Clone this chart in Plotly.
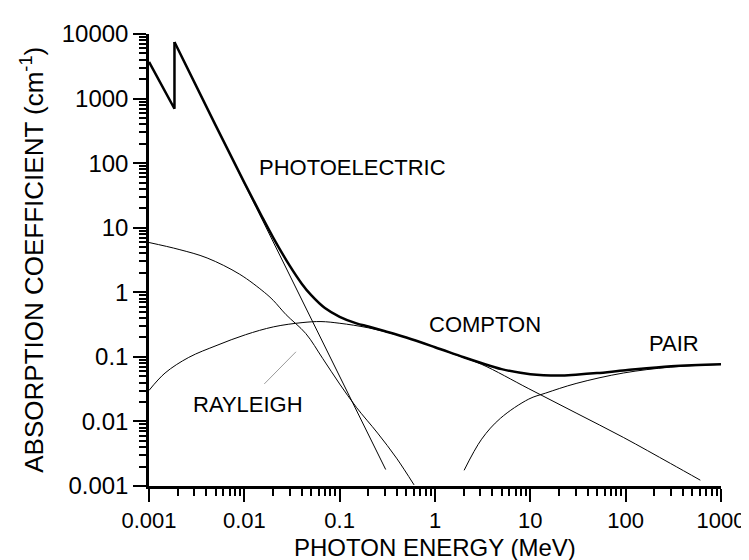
import plotly.graph_objects as go

# ---- data (energy in MeV, coefficient in cm^-1) ----
# total attenuation: part below the absorption edge (drawn straight)
edge_E = [0.001, 0.00185, 0.00185]
edge_mu = [3700, 695, 7500]
# total attenuation above the edge
total_E = [0.00185, 0.005, 0.01, 0.015, 0.02, 0.03, 0.04, 0.05, 0.07, 0.1,
           0.15, 0.2, 0.3, 0.5, 1, 2, 3, 5, 10, 20, 30, 50, 100, 300, 1000]
total_mu = [7500, 385, 50, 15.7, 7.1, 2.56, 1.36, 0.91, 0.57, 0.417,
            0.33, 0.295, 0.249, 0.199, 0.141, 0.0985, 0.081, 0.0645, 0.054, 0.0515,
            0.053, 0.056, 0.062, 0.0716, 0.077]

photo_E = [0.00185, 0.304]
photo_mu = [7500, 0.0018]

rayleigh_E = [0.001, 0.00207, 0.00407, 0.00895, 0.0162, 0.0201, 0.0274, 0.0441,
              0.0662, 0.1, 0.15, 0.25, 0.395, 0.603]
rayleigh_mu = [5.9, 4.6, 3.4, 1.9, 1.0, 0.75, 0.45, 0.23,
               0.095, 0.038, 0.0165, 0.0066, 0.0027, 0.00104]

compton_E = [0.001, 0.001474, 0.00261, 0.00517, 0.01026, 0.02033, 0.0403, 0.0637,
             0.1005, 0.199, 0.395, 0.783, 1.553, 3.08, 9.64, 30.2, 94.5, 296, 607]
compton_mu = [0.0302, 0.0562, 0.098, 0.151, 0.22, 0.292, 0.339, 0.352,
              0.331, 0.282, 0.22, 0.161, 0.111, 0.0766, 0.0321, 0.0135, 0.00566, 0.00223, 0.00123]

pair_E = [2.02, 3.08, 4.86, 9.64, 14.4, 30.2, 94.5, 296, 1000]
pair_mu = [0.00175, 0.0053, 0.0112, 0.0222, 0.0274, 0.0387, 0.0562, 0.0693, 0.0766]

leader_E = [0.0162, 0.0348]
leader_mu = [0.0381, 0.1197]

x_tickvals = [0.001, 0.01, 0.1, 1, 10, 100, 1000]
x_ticktext = ["0.001", "0.01", "0.1", "1", "10", "100", "1000"]
y_tickvals = [0.001, 0.01, 0.1, 1, 10, 100, 1000, 10000]
y_ticktext = ["0.001", "0.01", "0.1", "1", "10", "100", "1000", "10000"]
minor_digits = [2, 3, 4, 5, 6, 7, 8, 9]

# curve labels: (text, log10 E, log10 mu)
labels = [("PHOTOELECTRIC", -0.869, 1.938),
          ("COMPTON", 0.527, -0.501),
          ("PAIR", 2.503, -0.787),
          ("RAYLEIGH", -1.966, -1.735)]

x_title = "PHOTON ENERGY (MeV)"
y_title = "ABSORPTION COEFFICIENT (cm<sup>-1</sup>)"

FONT = "Liberation Sans, Arial, sans-serif"

x_minor = [d * v for v in x_tickvals[:-1] for d in minor_digits]
y_minor = [d * v for v in y_tickvals[:-1] for d in minor_digits]

fig = go.Figure()
thin = dict(color="black", width=1)
smooth = dict(color="black", width=1, shape="spline", smoothing=1.0)
fig.add_trace(go.Scatter(x=photo_E, y=photo_mu, mode="lines", line=thin, hoverinfo="skip"))
fig.add_trace(go.Scatter(x=rayleigh_E, y=rayleigh_mu, mode="lines", line=smooth, hoverinfo="skip"))
fig.add_trace(go.Scatter(x=compton_E, y=compton_mu, mode="lines", line=smooth, hoverinfo="skip"))
fig.add_trace(go.Scatter(x=pair_E, y=pair_mu, mode="lines", line=smooth, hoverinfo="skip"))
fig.add_trace(go.Scatter(x=leader_E, y=leader_mu, mode="lines", line=dict(color="#9a9a9a", width=1), hoverinfo="skip"))
fig.add_trace(go.Scatter(x=edge_E, y=edge_mu, mode="lines", line=dict(color="black", width=2.5), hoverinfo="skip"))
fig.add_trace(go.Scatter(x=total_E, y=total_mu, mode="lines",
                         line=dict(color="black", width=2.5, shape="spline", smoothing=1.0), hoverinfo="skip"))

for text, lx, ly in labels:
    fig.add_annotation(text=text, x=lx, y=ly, xref="x", yref="y", showarrow=False,
                       font=dict(family=FONT, size=22, color="black"))

# axis titles placed as paper-referenced text
fig.add_annotation(text=x_title, x=0.5, y=-0.135, xref="paper", yref="paper", showarrow=False,
                   xanchor="center", yanchor="middle", font=dict(family=FONT, size=24, color="black"))
fig.add_annotation(text=y_title, x=-0.205, y=0.5, xref="paper", yref="paper", showarrow=False,
                   textangle=-90, xanchor="center", yanchor="middle",
                   font=dict(family=FONT, size=26, color="black"))

axis_common = dict(
    type="log", showgrid=False, zeroline=False, showline=True, linecolor="black", linewidth=2.5,
    ticks="outside", ticklen=13, tickwidth=2, tickcolor="black", ticklabeloverflow="allow",
)
fig.update_xaxes(**axis_common, range=[-3, 3], tickvals=x_tickvals, ticktext=x_ticktext,
                 tickfont=dict(family=FONT, size=22, color="black"),
                 minor=dict(tickvals=x_minor, ticks="outside", ticklen=7, tickwidth=1.5, tickcolor="black"))
fig.update_yaxes(**axis_common, range=[-3, 4], tickvals=y_tickvals, ticktext=y_ticktext,
                 tickfont=dict(family=FONT, size=24, color="black"),
                 minor=dict(tickvals=y_minor, ticks="outside", ticklen=7, tickwidth=1.5, tickcolor="black"))

fig.update_layout(width=749, height=560, showlegend=False,
                  plot_bgcolor="white", paper_bgcolor="white",
                  margin=dict(l=141, r=28, t=13, b=82))
fig.write_html("out.html")
